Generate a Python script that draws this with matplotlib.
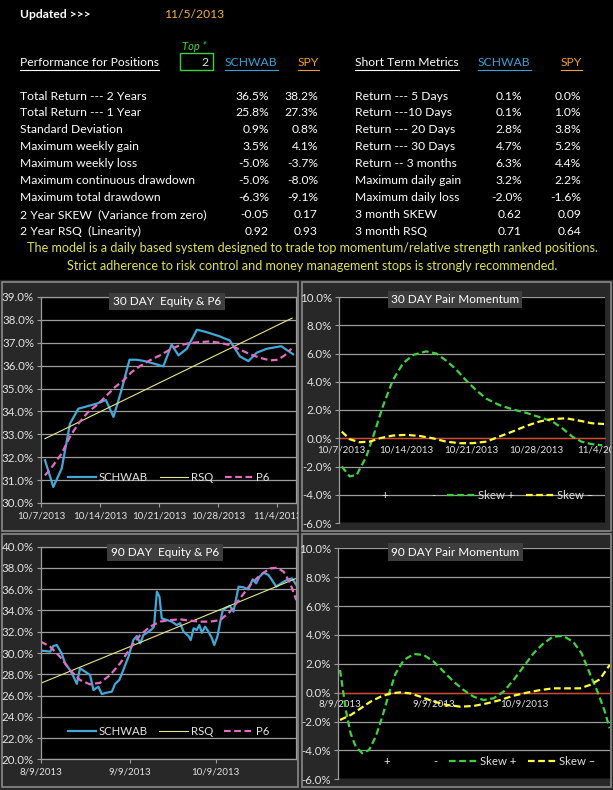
import matplotlib
matplotlib.use("Agg")
import matplotlib.pyplot as plt
from matplotlib.lines import Line2D
from matplotlib.patches import Rectangle

plt.rcParams["font.family"] = ["Lato", "DejaVu Sans"]

W, H = 613, 790

# ---------------- table data ----------------
UPDATED = "11/5/2013"
TOP_N = "2"
perf_labels = ["Total Return --- 2 Years", "Total Return --- 1 Year", "Standard Deviation",
               "Maximum weekly gain", "Maximum weekly loss", "Maximum continuous drawdown",
               "Maximum total drawdown", "2 Year SKEW  (Variance from zero)", "2 Year RSQ  (Linearity)"]
perf_schwab = ["36.5%", "25.8%", "0.9%", "3.5%", "-5.0%", "-5.0%", "-6.3%", "-0.05", "0.92"]
perf_spy = ["38.2%", "27.3%", "0.8%", "4.1%", "-3.7%", "-8.0%", "-9.1%", "0.17", "0.93"]
st_labels = ["Return --- 5 Days", "Return ---10 Days", "Return --- 20 Days", "Return --- 30 Days",
             "Return -- 3 months", "Maximum daily gain", "Maximum daily loss", "3 month SKEW",
             "3 month RSQ"]
st_schwab = ["0.1%", "0.1%", "2.8%", "4.7%", "6.3%", "3.2%", "-2.0%", "0.62", "0.71"]
st_spy = ["0.0%", "1.0%", "3.8%", "5.2%", "4.4%", "2.2%", "-1.6%", "0.09", "0.64"]
notes = ["The model is a daily based system designed to trade top momentum/relative strength ranked positions.",
         "Strict adherence to risk control and money management stops is strongly recommended."]

# ---------------- 30 day equity (days after 10/7/2013) ----------------
eq30_days = [0.47, 1.46, 2.45, 3.44, 4.43, 6.6, 7.7, 8.6, 9.6, 10.5, 11.3, 12.3, 13.3, 14.5,
             15.5, 16.3, 17.3, 18.5, 19.6, 21.2, 22.4, 23.6, 24.6, 25.6, 26.8, 28.5, 29.9]
eq30_schwab = [31.87, 30.7, 31.5, 33.47, 34.12, 34.34, 34.5, 33.76, 35.0, 36.26, 36.26, 36.2,
               36.1, 35.97, 36.92, 36.45, 36.74, 37.57, 37.47, 37.28, 37.1, 36.4, 36.2, 36.57,
               36.74, 36.85, 36.5]
eq30_rsq_days = [0.47, 29.8]
eq30_rsq = [32.81, 38.08]
eq30_p6_days = [0.47, 1.46, 2.45, 3.44, 4.43, 5.6, 6.6, 7.8, 8.8, 9.8, 10.75, 11.7, 12.9, 14.1,
                15.3, 16.5, 17.7, 18.9, 20.0, 21.2, 22.4, 23.6, 24.8, 26.0, 27.2, 28.1, 28.9, 29.7]
eq30_p6 = [31.2, 31.65, 32.16, 32.9, 33.47, 33.98, 34.27, 34.7, 35.07, 35.36, 35.72, 35.97, 36.23,
           36.45, 36.7, 36.9, 36.99, 37.03, 37.06, 37.0, 36.9, 36.7, 36.5, 36.34, 36.23, 36.26,
           36.45, 36.74]
ticks30 = [0, 7, 14, 21, 28]
labels30 = ["10/7/2013", "10/14/2013", "10/21/2013", "10/28/2013", "11/4/2013"]

# ---------------- 30 day pair momentum ----------------
pm30_pos_days = [0, 0.86, 1.6, 2.65, 3.5, 4.4, 5.5, 6.6, 7.7, 9.1, 10.2, 11.25, 12.3, 13.4, 14.5,
                 15.6, 17.0, 18.4, 19.9, 21.3, 22.7, 23.8, 24.9, 25.9, 27.0, 28.1]
pm30_pos = [-2.0, -2.7, -2.6, -1.3, 0.35, 2.2, 4.1, 5.3, 5.9, 6.15, 6.0, 5.5, 4.9, 4.1, 3.4, 2.8,
            2.35, 2.05, 1.8, 1.5, 1.2, 0.7, 0.1, -0.25, -0.42, -0.5]
pm30_neg_days = [0, 0.86, 1.9, 3.0, 4.1, 5.5, 7.0, 8.4, 9.8, 11.25, 12.7, 14.1, 15.6, 17.0, 18.4,
                 19.9, 21.3, 22.7, 24.2, 25.6, 27.0, 28.3]
pm30_neg = [0.47, -0.07, -0.28, -0.24, 0.0, 0.19, 0.24, 0.16, 0.0, -0.24, -0.35, -0.35, -0.24,
            0.12, 0.47, 0.87, 1.18, 1.36, 1.41, 1.25, 1.06, 1.01]

# ---------------- 90 day equity (days after 8/9/2013) ----------------
eq90_days = [0.3, 3.3, 4.4, 5.6, 7.3, 8.5, 10.2, 11.4, 12.6, 13.7, 15.5, 17.2, 18.4, 20.1, 21.3,
             23.0, 24.8, 25.9, 27.4, 28.8, 30.6, 32.3, 33.5, 34.7, 35.8, 37.6, 38.7, 39.5, 40.5,
             41.4, 42.2, 44.0, 45.7, 47.4, 48.6, 49.8, 51.5, 52.3, 53.3, 54.4, 55.3, 56.2, 57.3,
             58.5, 59.7, 60.5, 61.6, 62.6, 63.5, 64.9, 66.0, 67.2, 69.0, 70.7, 72.4, 73.9, 75.1,
             76.3, 77.7, 79.4, 80.6, 82.1, 84.1, 85.8, 87.6, 89.1]
eq90_schwab = [30.22, 30.13, 30.66, 30.75, 29.97, 29.03, 28.4, 27.8, 27.1, 28.56, 28.24, 27.93,
               26.52, 26.83, 26.14, 26.27, 26.36, 27.08, 27.46, 28.4, 29.66, 31.22, 31.6, 30.91,
               31.69, 32.0, 32.23, 32.48, 35.77, 35.3, 33.26, 33.1, 32.95, 32.63, 32.8, 32.0,
               31.6, 31.22, 32.32, 32.16, 32.63, 31.9, 32.48, 32.0, 31.38, 30.75, 31.54, 32.95,
               34.04, 34.3, 34.42, 33.89, 36.24, 36.18, 35.99, 36.93, 36.55, 37.18, 37.55, 37.34,
               36.87, 36.24, 36.61, 36.87, 37.02, 36.4]
eq90_rsq_days = [0, 89.1]
eq90_rsq = [27.15, 37.02]
eq90_p6_days = [0, 3.3, 6.7, 10.2, 13.7, 17.2, 20.7, 24.2, 27.7, 31.2, 34.7, 38.1, 41.6, 45.1,
                48.6, 52.1, 55.6, 59.1, 62.6, 66.0, 69.5, 73.0, 76.5, 80.0, 82.3, 84.7, 87.0, 89.1]
eq90_p6 = [31.07, 30.6, 29.66, 28.4, 27.46, 27.05, 27.2, 27.93, 29.03, 30.44, 31.69, 32.48,
           32.95, 33.1, 33.17, 33.04, 32.95, 32.95, 33.1, 33.89, 35.14, 36.39, 37.34, 37.96,
           38.02, 37.65, 36.55, 34.98]
ticks90 = [0, 31, 61]
labels90 = ["8/9/2013", "9/9/2013", "10/9/2013"]

# ---------------- 90 day pair momentum ----------------
pm90_pos_days = [0, 0.8, 1.9, 3.5, 5.2, 7.4, 9.6, 11.8, 14.0, 16.2, 18.4, 21.1, 24.4, 27.7, 31.0,
                 34.3, 37.6, 40.9, 44.2, 47.5, 50.8, 54.1, 57.4, 60.7, 64.0, 67.3, 70.5, 73.8,
                 77.1, 79.9, 82.6, 85.4, 87.6, 89.2]
pm90_pos = [1.57, 0.42, -1.2, -2.82, -3.74, -4.2, -3.97, -3.05, -1.66, -0.05, 1.34, 2.26, 2.68,
            2.61, 2.15, 1.45, 0.76, 0.18, -0.28, -0.51, -0.39, 0.07, 0.88, 1.8, 2.73, 3.42, 3.88,
            3.93, 3.53, 2.73, 1.34, -0.05, -1.32, -2.47]
pm90_neg_days = [0, 3.5, 6.8, 10.1, 13.4, 16.7, 20.0, 23.3, 26.6, 31.0, 35.4, 39.8, 44.2, 48.6,
                 53.0, 57.4, 61.8, 66.2, 70.5, 74.9, 79.3, 82.6, 85.9, 89.2]
pm90_neg = [-1.89, -1.55, -1.09, -0.62, -0.28, -0.05, 0.02, -0.05, -0.28, -0.62, -0.85, -0.97,
            -0.92, -0.74, -0.51, -0.21, 0.0, 0.18, 0.3, 0.3, 0.3, 0.53, 0.92, 1.92]

# ---------------- colours ----------------
BLUE = "#41a8d8"
RSQ_C = "#e8e884"
PINK = "#e46cc0"
GREEN = "#3fd23f"
YELLOW = "#ffff3c"
ZERO = "#e0442a"
GRID = "#9c9c9c"
TXT = "#e4e4e4"
PANEL = "#282828"
FS = 8.7


def fx(x):
    return x / W


def fy(y):
    return 1 - y / H


def px_axes(fig, x0, y0, x1, y1):
    return fig.add_axes([x0 / W, 1 - y1 / H, (x1 - x0) / W, (y1 - y0) / H])


def put(fig, x, y, s, **kw):
    kw.setdefault("color", "white")
    kw.setdefault("fontsize", FS)
    kw.setdefault("va", "center")
    return fig.text(fx(x), fy(y), s, **kw)


def style_axes(ax, ylim, ystep, xlim, xticks, xlabels, zero_axis, clip):
    ax.set_facecolor("black")
    ax.set_xlim(*xlim)
    ax.set_ylim(*ylim)
    yt = [ylim[0] + i * ystep for i in range(int(round((ylim[1] - ylim[0]) / ystep)) + 1)]
    ax.set_yticks(yt)
    ax.set_yticklabels([f"{v:.1f}%" for v in yt])
    ax.set_xticks(xticks)
    ax.set_xticklabels(xlabels)
    ax.yaxis.grid(True, color=GRID, lw=0.9)
    ax.set_axisbelow(True)
    for s in ax.spines.values():
        s.set_color(GRID)
        s.set_linewidth(0.9)
    ax.tick_params(axis="y", colors=GRID, labelcolor=TXT, labelsize=8.3, length=3, pad=2)
    ax.tick_params(axis="x", colors=GRID, labelcolor=TXT, labelsize=7, length=3, pad=3)
    if zero_axis:
        ax.spines["bottom"].set_position(("data", 0))
        ax.spines["bottom"].set_color(ZERO)
        ax.spines["bottom"].set_zorder(1.5)
        ax.spines["top"].set_visible(False)
        ax.spines["right"].set_visible(False)
        ax.tick_params(axis="x", length=0, pad=5)
    for lab in ax.get_xticklabels():
        lab.set_clip_path(clip)


fig = plt.figure(figsize=(W / 100, H / 100), dpi=100, facecolor="black")

# ---------- header / table ----------
put(fig, 20, 14, "Updated >>>", fontweight="bold")
put(fig, 164, 14, UPDATED, color="#f2b233")

put(fig, 182, 46, "Top *", color=GREEN, style="italic", fontsize=8)
fig.add_artist(Rectangle((fx(180), fy(70)), 33 / W, 17 / H, transform=fig.transFigure,
                         fill=False, edgecolor=GREEN, lw=1))
put(fig, 209, 62, TOP_N, ha="right", color="#c8f0c8")

heads = [
    put(fig, 20, 62, "Performance for Positions"),
    put(fig, 225, 62, "SCHWAB", color="#33a3dc"),
    put(fig, 298, 62, "SPY", color="#f0a030"),
    put(fig, 355, 62, "Short Term Metrics"),
    put(fig, 478, 62, "SCHWAB", color="#33a3dc"),
    put(fig, 561, 62, "SPY", color="#f0a030"),
]

row_y0, row_dy = 96, 16.95
for i in range(len(perf_labels)):
    y = row_y0 + i * row_dy
    put(fig, 20, y, perf_labels[i])
    put(fig, 269, y, perf_schwab[i], ha="right")
    put(fig, 318, y, perf_spy[i], ha="right")
    put(fig, 355, y, st_labels[i])
    put(fig, 522, y, st_schwab[i], ha="right")
    put(fig, 581, y, st_spy[i], ha="right")

put(fig, 313, 248, notes[0], ha="center", color="#e2e24e", fontsize=9.1)
put(fig, 312, 266, notes[1], ha="center", color="#e2e24e", fontsize=9.1)

# underline headers
fig.canvas.draw()
inv = fig.transFigure.inverted()
for t in heads:
    bb = t.get_window_extent().transformed(inv)
    fig.add_artist(Line2D([bb.x0, bb.x1], [fy(69.5), fy(69.5)], transform=fig.transFigure,
                          color=t.get_color(), lw=0.8))

# ---------- chart panels ----------
fig.add_artist(Rectangle((0, 0), 1, fy(280), transform=fig.transFigure, color=PANEL, zorder=-2))
panels = {}
for name, (x0, y0, x1, y1) in {"tl": (2, 282, 298, 531), "tr": (302, 282, 611, 531),
                               "bl": (2, 534, 298, 787), "br": (302, 534, 611, 787)}.items():
    r = Rectangle((fx(x0), fy(y1)), (x1 - x0) / W, (y1 - y0) / H, transform=fig.transFigure,
                  facecolor=PANEL, edgecolor="#8a8a8a", lw=1.2, zorder=-1)
    fig.add_artist(r)
    panels[name] = r

leg_kw = dict(loc="center", frameon=False, fontsize=8.2, labelcolor=TXT, handletextpad=0.25,
              columnspacing=1.0, handlelength=2.5)

# 30 day equity
ax = px_axes(fig, 41, 297, 296, 503)
style_axes(ax, (30, 39), 1, (0, 30.25), ticks30, labels30, False, panels["tl"])
l1, = ax.plot(eq30_days, eq30_schwab, color=BLUE, lw=1.6)
l2, = ax.plot(eq30_rsq_days, eq30_rsq, color=RSQ_C, lw=0.8)
l3, = ax.plot(eq30_p6_days, eq30_p6, color=PINK, lw=1.6, dashes=(3, 1.6))
ax.legend([l1, l2, l3], ["SCHWAB", "RSQ", "P6"], ncol=3, bbox_to_anchor=(0.5, 0.126), **leg_kw)
put(fig, 167, 301.5, "30 DAY  Equity & P6", ha="center", fontsize=8.5,
    bbox=dict(facecolor="#3e3e3e", edgecolor="none", pad=2.5))

# 30 day pair momentum
ax = px_axes(fig, 339, 297, 605, 523)
style_axes(ax, (-6, 10), 2, (-0.3, 28.4), ticks30, labels30, True, panels["tr"])
blank1 = Line2D([], [], linestyle="none")
blank2 = Line2D([], [], linestyle="none")
g, = ax.plot(pm30_pos_days, pm30_pos, color=GREEN, lw=1.6, dashes=(3, 1.6))
yl, = ax.plot(pm30_neg_days, pm30_neg, color=YELLOW, lw=1.6, dashes=(3, 1.6))
ax.legend([blank1, blank2, g, yl], ["+", "-", "Skew +", "Skew \u2013"], ncol=4,
          bbox_to_anchor=(0.5, 0.12), **leg_kw)
put(fig, 455, 299.5, "30 DAY Pair Momentum", ha="center", fontsize=8.5,
    bbox=dict(facecolor="#3e3e3e", edgecolor="none", pad=2.5))

# 90 day equity
ax = px_axes(fig, 40.7, 546.7, 296, 759.3)
style_axes(ax, (20, 40), 2, (0, 89), ticks90, labels90, False, panels["bl"])
l1, = ax.plot(eq90_days, eq90_schwab, color=BLUE, lw=1.6)
l2, = ax.plot(eq90_rsq_days, eq90_rsq, color=RSQ_C, lw=0.8)
l3, = ax.plot(eq90_p6_days, eq90_p6, color=PINK, lw=1.6, dashes=(3, 1.6))
ax.legend([l1, l2, l3], ["SCHWAB", "RSQ", "P6"], ncol=3, bbox_to_anchor=(0.5, 0.132), **leg_kw)
put(fig, 165, 552.5, "90 DAY  Equity & P6", ha="center", fontsize=8.5,
    bbox=dict(facecolor="#3e3e3e", edgecolor="none", pad=2.5))

# 90 day pair momentum
ax = px_axes(fig, 337.7, 548.3, 610, 779.3)
style_axes(ax, (-6, 10), 2, (-0.77, 89.3), ticks90, labels90, True, panels["br"])
g, = ax.plot(pm90_pos_days, pm90_pos, color=GREEN, lw=1.6, dashes=(3, 1.6))
yl, = ax.plot(pm90_neg_days, pm90_neg, color=YELLOW, lw=1.6, dashes=(3, 1.6))
ax.legend([blank1, blank2, g, yl], ["+", "-", "Skew +", "Skew \u2013"], ncol=4,
          bbox_to_anchor=(0.5, 0.078), **leg_kw)
put(fig, 455.5, 552, "90 DAY Pair Momentum", ha="center", fontsize=8.5,
    bbox=dict(facecolor="#3e3e3e", edgecolor="none", pad=2.5))

fig.savefig("out.png", dpi=100, facecolor="black")
